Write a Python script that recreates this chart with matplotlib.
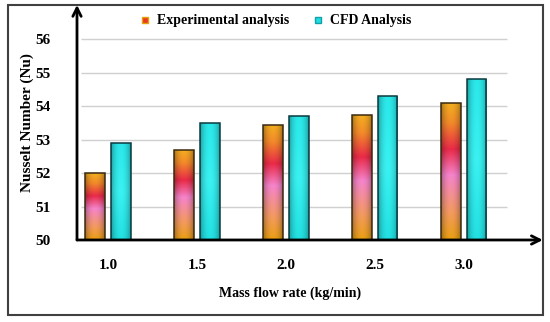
import numpy as np
import matplotlib.pyplot as plt
from matplotlib.colors import LinearSegmentedColormap
from matplotlib.lines import Line2D
from matplotlib.patches import Rectangle

plt.rcParams['font.family'] = ['Liberation Serif', 'DejaVu Serif']
plt.rcParams['font.weight'] = 'bold'

flow_rates = ['1.0', '1.5', '2.0', '2.5', '3.0']
experimental = [52.0, 52.7, 53.45, 53.75, 54.1]
cfd = [52.9, 53.5, 53.7, 54.3, 54.8]
yticks = [50, 51, 52, 53, 54, 55, 56]

fig = plt.figure(figsize=(5.5, 3.22), dpi=100)
ax = fig.add_axes([0.14, 0.2547, 0.847, 0.730])

x = np.arange(len(flow_rates))
w = 0.22
base = 50

exp_cmap = LinearSegmentedColormap.from_list('exp', [
    (0.0, '#eaa010'), (0.2, '#f49a60'), (0.47, '#f684cc'),
    (0.66, '#ea2a48'), (0.85, '#f38a2a'), (1.0, '#f4b020')])
cfd_cmap = LinearSegmentedColormap.from_list('cfd', [
    (0.0, '#22e0e2'), (0.5, '#3af2f2'), (1.0, '#2ae8ea')])

exp_bars = ax.bar(x - 0.145, np.array(experimental) - base, w, bottom=base,
                  color='none', edgecolor='#3a2a10', linewidth=1.1, zorder=3)
cfd_bars = ax.bar(x + 0.145, np.array(cfd) - base, w, bottom=base,
                  color='none', edgecolor='#0a3a40', linewidth=1.1, zorder=3)

# vertical colour gradient with darker sides for a rounded look
v = np.linspace(0, 1, 256)
u = np.linspace(0, 1, 40)
shade = 0.62 + 0.38 * np.sin(np.pi * u) ** 0.6
for bars, cmap in [(exp_bars, exp_cmap), (cfd_bars, cfd_cmap)]:
    rgb = cmap(v)[:, None, :3] * shade[None, :, None]
    for b in bars:
        x0, y0 = b.get_x(), b.get_y()
        im = ax.imshow(rgb, origin='lower', aspect='auto',
                       extent=[x0, x0 + b.get_width(), y0, y0 + b.get_height()],
                       zorder=2)
        im.set_clip_path(b)

ax.hlines(yticks[1:], -0.31, 4.49, color='#d0d0d0', linewidth=1.0, zorder=1)

ax.set_xlim(-0.35, 4.89)
ax.set_ylim(50, 57.03)
ax.set_xticks(x)
ax.set_xticklabels(flow_rates)
ax.set_yticks(yticks)
ax.tick_params(length=0, labelsize=11)
ax.tick_params(axis='y', pad=19)
ax.tick_params(axis='x', pad=14)
for s in ax.spines.values():
    s.set_visible(False)

ax.annotate('', xy=(0, 1), xytext=(0, 0), xycoords='axes fraction',
            arrowprops=dict(arrowstyle='->', lw=2, color='black',
                            mutation_scale=15, shrinkA=0, shrinkB=0))
ax.annotate('', xy=(1, 0), xytext=(0, 0), xycoords='axes fraction',
            arrowprops=dict(arrowstyle='->', lw=2, color='black',
                            mutation_scale=15, shrinkA=0, shrinkB=0))

ax.set_ylabel('Nusselt Number (Nu)', fontsize=11, fontweight='bold', labelpad=1)
fig.text(0.527, 0.088, 'Mass flow rate (kg/min)', ha='center', va='center',
         fontsize=10, fontweight='bold')

handles = [Line2D([], [], marker='s', linestyle='none', markersize=4,
                  markerfacecolor='#e83a20', markeredgecolor='#e8a008'),
           Line2D([], [], marker='s', linestyle='none', markersize=4,
                  markerfacecolor='#20dde0', markeredgecolor='#10a0a8')]
fig.legend(handles, ['Experimental analysis', 'CFD Analysis'], ncol=2,
           loc='center', bbox_to_anchor=(0.5, 0.935), frameon=False,
           fontsize=10, handletextpad=0.35, columnspacing=1.6, handlelength=1)

fig.add_artist(Rectangle((0.0145, 0.0217), 0.973, 0.963, transform=fig.transFigure,
                         fill=False, edgecolor='#404040', linewidth=1.5))

fig.savefig('out.png', dpi=100)
